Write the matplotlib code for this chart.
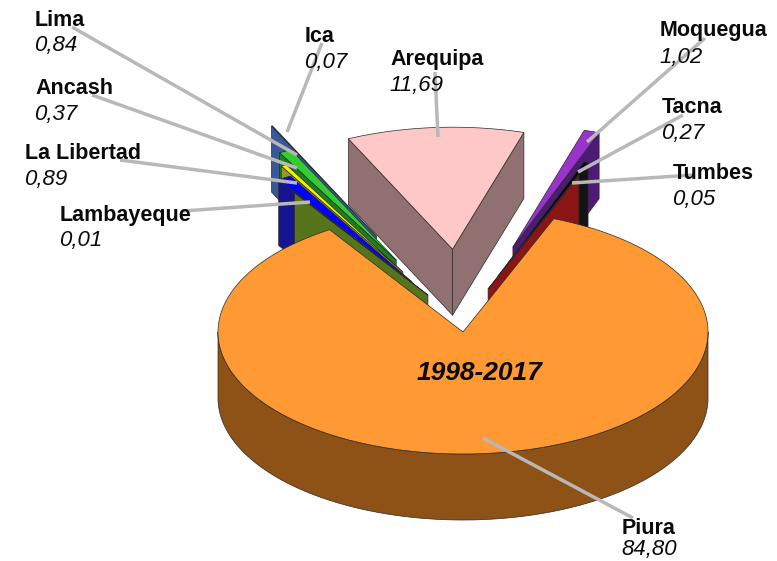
import numpy as np
import matplotlib
matplotlib.use("Agg")
import matplotlib.pyplot as plt
from matplotlib.patches import Polygon

regions = ["Lambayeque", "La Libertad", "Ancash", "Lima", "Ica", "Arequipa",
           "Moquegua", "Tacna", "Tumbes", "Piura"]
values = [0.01, 0.89, 0.37, 0.84, 0.07, 11.69, 1.02, 0.27, 0.05, 84.80]
value_labels = ["0,01", "0,89", "0,37", "0,84", "0,07", "11,69", "1,02", "0,27", "0,05", "84,80"]
center_label = "1998-2017"

# styling
top_colors = ["#5F8A1E", "#0000FF", "#F5F000", "#33CC33", "#3A62A0", "#FFC8C8",
              "#9933CC", "#050505", "#A01818", "#FF9933"]
side_colors = ["#56751B", "#15158F", "#99991F", "#1A801A", "#37599A", "#907070",
               "#4D1A75", "#141414", "#8B1515", "#8E5217"]
explode_r = [0.335, 0.46, 0.55, 0.65, 0.86, 0.68, 0.726, 0.48, 0.367, 0.0]
explode_dir = [-25.3, -26.9, -26.5, -24.8, -24.2, -3.6, 16.3, 17.3, 16.2, 0.0]
draw_order = [4, 3, 2, 1, 0, 5, 6, 7, 8, 9]

# layout in image pixels
W, H = 777, 561
CX, CY, RX, RY, DEPTH = 463, 332, 245, 122, 66
START_ANGLE = -33.0
text_pos = {"Lambayeque": (60, 216, 241), "La Libertad": (25, 154, 180), "Ancash": (35, 89, 115),
            "Lima": (35, 21, 46), "Ica": (305, 37, 63), "Arequipa": (390, 60, 86),
            "Moquegua": (660, 31, 57), "Tacna": (662, 108, 134), "Tumbes": (673, 174, 200),
            "Piura": (622, 528, 550)}
leaders = {"Lambayeque": (183, 211, 310, 202), "La Libertad": (120, 160, 297, 183),
           "Ancash": (92, 95, 297, 168), "Lima": (72, 27, 297, 155),
           "Ica": (322, 43, 287, 132), "Arequipa": (435, 72, 438, 137),
           "Moquegua": (705, 38, 587, 142), "Tacna": (683, 115, 578, 172),
           "Tumbes": (693, 175, 572, 183), "Piura": (633, 518, 483, 438)}

fig = plt.figure(figsize=(W / 100, H / 100), dpi=100)
ax = fig.add_axes([0, 0, 1, 1])
ax.set_xlim((0 - CX) / RX, (W - CX) / RX)
ax.set_ylim((CY - H) / RY, CY / RY)
ax.axis("off")
d = DEPTH / RY


def px(x, y):
    return (x - CX) / RX, (CY - y) / RY


def unit(theta):
    t = np.radians(theta)
    return np.sin(t), np.cos(t)


fractions = np.array(values) / np.sum(values) * 360.0
starts = START_ANGLE + np.concatenate([[0], np.cumsum(fractions)[:-1]])
ends = starts + fractions
EDGE = dict(edgecolor="#2A2A2A", linewidth=0.5, joinstyle="round")

for i in draw_order:
    t1, t2 = starts[i], ends[i]
    ex, ey = unit(explode_dir[i])
    tx, ty = ex * explode_r[i], ey * explode_r[i]
    if np.sin(np.radians(t1)) < 0:
        ox, oy = unit(t1)
        ax.add_patch(Polygon([(tx, ty), (tx + ox, ty + oy), (tx + ox, ty + oy - d), (tx, ty - d)],
                             facecolor=side_colors[i], **EDGE))
    if np.sin(np.radians(t2)) > 0:
        ox, oy = unit(t2)
        ax.add_patch(Polygon([(tx, ty), (tx + ox, ty + oy), (tx + ox, ty + oy - d), (tx, ty - d)],
                             facecolor=side_colors[i], **EDGE))
    a1, a2 = max(t1, 90.0), min(t2, 270.0)
    if a2 > a1:
        th = np.linspace(a1, a2, 200)
        xs, ys = unit(th)
        outer = np.column_stack([tx + xs, ty + ys])
        lower = np.column_stack([tx + xs, ty + ys - d])[::-1]
        ax.add_patch(Polygon(np.vstack([outer, lower]), facecolor=side_colors[i], **EDGE))
    th = np.linspace(t1, t2, max(int(fractions[i] * 2), 6))
    xs, ys = unit(th)
    pts = np.vstack([[tx, ty], np.column_stack([tx + xs, ty + ys])])
    ax.add_patch(Polygon(pts, facecolor=top_colors[i], **EDGE))

FONT = "Liberation Sans"
for name, val in zip(regions, value_labels):
    x0, y0, x1, y1 = leaders[name]
    (a, b), (c, e) = px(x0, y0), px(x1, y1)
    ax.plot([a, c], [b, e], color="#B8B8B8", lw=2.5, solid_capstyle="butt", zorder=5)
    x, yn, yv = text_pos[name]
    tx, ty = px(x, yn)
    ax.text(tx, ty, name, family=FONT, fontsize=15.5, fontweight="bold", color="#0A0A0A",
            ha="left", va="center", zorder=6)
    tx, ty = px(x - 1, yv)
    ax.text(tx, ty, val, family=FONT, fontsize=16, fontstyle="italic", color="#0A0A0A",
            ha="left", va="center", zorder=6)

tx, ty = px(479, 373)
ax.text(tx, ty, center_label, family=FONT, fontsize=19, fontweight="bold", fontstyle="italic",
        color="#0A0A0A", ha="center", va="center", zorder=6)

fig.savefig("out.png", dpi=100, facecolor="white")
